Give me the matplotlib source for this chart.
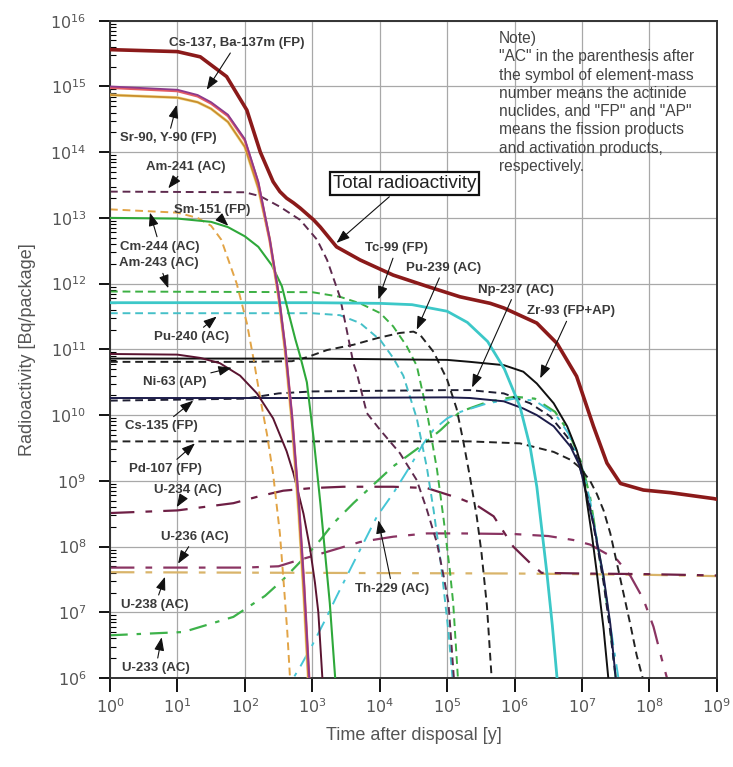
import numpy as np
import matplotlib.pyplot as plt
from matplotlib.ticker import LogLocator, FixedLocator, NullFormatter

plt.rcParams['font.family'] = ['Liberation Sans', 'DejaVu Sans']

# Значення задані як показники степеня: log10(час, роки) та log10(активність, Бк)
total_t = [0, 1.0, 1.34, 1.73, 2.03, 2.23, 2.42, 2.52, 2.62, 2.72, 2.82, 3.02, 3.12, 3.36, 3.71,
           4.2, 4.7, 5.19, 5.64, 5.84, 6.33, 6.63, 6.92, 7.17, 7.37, 7.57, 7.91, 8.31, 8.95, 9.0]
total_a = [15.56, 15.53, 15.45, 15.15, 14.64, 14.0, 13.55, 13.4, 13.3, 13.23, 13.15, 12.97, 12.86,
           12.56, 12.36, 12.13, 11.96, 11.80, 11.70, 11.63, 11.40, 11.09, 10.59, 9.83, 9.27, 8.96,
           8.86, 8.82, 8.73, 8.72]

cs137_t = [0, 1.0, 1.3, 1.5, 1.75, 2.0, 2.2, 2.37, 2.5, 2.6, 2.7, 2.8, 2.88, 2.95, 3.0]
cs137_a = [15.0, 14.95, 14.87, 14.76, 14.57, 14.2, 13.55, 12.68, 11.86, 11.04, 10.0, 8.7, 7.42, 6.1, 5.0]
ba137m_a = [14.98, 14.93, 14.85, 14.74, 14.55, 14.18, 13.53, 12.66, 11.84, 11.02, 9.98, 8.68, 7.4, 6.08, 4.98]

sr90_t = [0, 1.0, 1.3, 1.5, 1.75, 2.0, 2.2, 2.37, 2.5, 2.6, 2.7, 2.8, 2.88, 2.94, 3.0]
sr90_a = [14.87, 14.83, 14.76, 14.66, 14.46, 14.08, 13.45, 12.66, 11.8, 10.95, 9.87, 8.5, 7.16, 6.0, 4.65]

am241_t = [0, 2.0, 2.23, 2.52, 2.82, 3.07, 3.22, 3.41, 3.51, 3.61, 3.66, 3.81, 4.01, 4.3, 4.55,
           4.7, 4.85, 4.95, 5.02, 5.1]
am241_a = [13.40, 13.39, 13.33, 13.17, 12.97, 12.67, 12.36, 11.80, 11.30, 10.79, 10.64, 10.03, 9.77,
           9.42, 9.01, 8.56, 8.05, 7.54, 7.14, 6.0]

cm244_t = [0, 1.0, 1.3, 1.5, 1.65, 1.88, 2.03, 2.13, 2.23, 2.33, 2.42, 2.52, 2.58, 2.63, 2.67]
cm244_a = [13.13, 13.08, 13.0, 12.88, 12.67, 12.0, 11.4, 10.85, 10.25, 9.7, 9.1, 8.2, 7.4, 6.7, 6.0]

sm151_t = [0, 1.0, 1.5, 1.75, 2.0, 2.2, 2.4, 2.55, 2.65, 2.75, 2.82, 2.92, 3.02, 3.12, 3.19, 3.26, 3.34]
sm151_a = [13.0, 12.99, 12.94, 12.86, 12.72, 12.56, 12.28, 11.96, 11.55, 11.15, 10.9, 10.5, 9.65,
           8.66, 7.9, 7.14, 6.0]

am243_t = [0, 3.0, 3.41, 3.71, 4.01, 4.2, 4.4, 4.55, 4.7, 4.85, 4.95, 5.04, 5.09, 5.16]
am243_a = [11.88, 11.87, 11.80, 11.70, 11.55, 11.35, 11.05, 10.75, 10.05, 9.17, 8.4, 7.64, 7.14, 6.0]

pu240_t = [0, 3.0, 3.41, 3.71, 4.01, 4.2, 4.35, 4.55, 4.7, 4.8, 4.9, 4.95, 5.02, 5.08]
pu240_a = [11.55, 11.55, 11.52, 11.40, 11.14, 10.87, 10.6, 9.95, 9.2, 8.55, 7.8, 7.35, 6.7, 6.0]

tc99_t = [0, 3.0, 4.0, 4.48, 5.0, 5.3, 5.6, 5.85, 6.08, 6.23, 6.33, 6.48, 6.56, 6.63]
tc99_a = [11.71, 11.71, 11.70, 11.68, 11.58, 11.41, 11.12, 10.7, 10.13, 9.52, 8.91, 7.59, 6.8, 6.0]

pu239_t = [0, 2.0, 2.7, 2.92, 3.22, 3.61, 3.96, 4.3, 4.5, 4.6, 4.8, 5.0, 5.14, 5.24, 5.34, 5.44,
           5.51, 5.59, 5.66]
pu239_a = [10.81, 10.81, 10.82, 10.88, 10.99, 11.07, 11.17, 11.25, 11.27, 11.22, 10.96, 10.54, 10.1,
           9.6, 9.05, 8.45, 7.9, 7.1, 6.0]

zr93_t = [0, 3.0, 5.0, 5.34, 5.84, 6.13, 6.33, 6.58, 6.78, 6.92, 7.02, 7.07, 7.15, 7.22, 7.32, 7.39]
zr93_a = [10.86, 10.86, 10.84, 10.81, 10.76, 10.66, 10.48, 10.18, 9.83, 9.47, 9.12, 8.7, 8.15, 7.6,
          6.75, 6.0]

ni63_t = [0, 1.0, 1.34, 1.63, 1.93, 2.18, 2.42, 2.62, 2.72, 2.87, 2.97, 3.04, 3.09, 3.12, 3.15]
ni63_a = [10.93, 10.92, 10.87, 10.79, 10.6, 10.33, 9.95, 9.45, 9.12, 8.5, 7.95, 7.45, 7.0, 6.5, 6.0]

np237_t = [0, 2.0, 2.5, 3.0, 4.0, 5.0, 5.34, 5.84, 6.23, 6.53, 6.78, 6.92, 7.02, 7.12, 7.22, 7.32,
           7.42, 7.5]
np237_a = [10.22, 10.25, 10.33, 10.36, 10.37, 10.38, 10.38, 10.33, 10.18, 9.98, 9.67, 9.37, 9.01,
           8.6, 8.05, 7.45, 6.7, 6.0]

cs135_t = [0, 3.0, 5.0, 5.34, 5.84, 6.13, 6.33, 6.58, 6.83, 6.97, 7.05, 7.17, 7.32, 7.42, 7.5]
cs135_a = [10.26, 10.26, 10.27, 10.26, 10.21, 10.10, 10.0, 9.83, 9.52, 9.22, 8.85, 8.35, 7.55, 6.82, 6.0]

pd107_t = [0, 3.0, 5.34, 6.08, 6.58, 6.83, 6.97, 7.12, 7.22, 7.32, 7.42, 7.57, 7.72, 7.81, 7.9]
pd107_a = [9.60, 9.60, 9.60, 9.57, 9.44, 9.32, 9.2, 9.0, 8.8, 8.55, 8.2, 7.5, 6.8, 6.35, 6.0]

u234_t = [0, 1.0, 1.83, 2.23, 2.57, 3.0, 3.46, 4.2, 4.7, 5.19, 5.45, 5.69, 5.98, 6.23, 6.4, 7.0, 8.0, 9.0]
u234_a = [8.51, 8.55, 8.66, 8.77, 8.85, 8.89, 8.91, 8.91, 8.89, 8.73, 8.62, 8.46, 8.0, 7.75, 7.6,
          7.59, 7.58, 7.56]

u236_t = [0, 1.0, 2.0, 2.5, 2.72, 3.22, 3.71, 4.2, 4.7, 5.2, 6.0, 6.5, 6.87, 7.12, 7.52, 7.72, 7.91,
          8.06, 8.18, 8.26]
u236_a = [7.68, 7.68, 7.68, 7.7, 7.77, 7.92, 8.07, 8.15, 8.2, 8.2, 8.19, 8.16, 8.1, 8.03, 7.8, 7.55,
          7.2, 6.78, 6.3, 6.0]

u238_t = [0, 3.0, 6.0, 8.0, 9.0]
u238_a = [7.61, 7.60, 7.59, 7.57, 7.55]

u233_t = [0, 1.09, 1.83, 2.3, 2.57, 2.9, 3.12, 3.31, 3.61, 4.2, 4.6, 4.9, 5.19, 5.6, 6.0, 6.3, 6.6,
          6.8, 7.0, 7.12, 7.22, 7.32, 7.42, 7.5]
u233_a = [6.65, 6.70, 6.93, 7.25, 7.5, 7.85, 8.1, 8.35, 8.66, 9.22, 9.52, 9.77, 10.05, 10.2, 10.28,
          10.25, 10.05, 9.75, 9.25, 8.75, 8.1, 7.5, 6.75, 6.0]

th229_t = [2.6, 2.72, 2.82, 3.0, 3.2, 3.36, 3.61, 3.96, 4.2, 4.45, 4.65, 4.8, 5.0, 5.2, 5.6, 6.0, 6.3,
           6.6, 6.8, 7.0, 7.12, 7.22, 7.32, 7.42, 7.54]
th229_a = [5.7, 6.0, 6.17, 6.5, 6.9, 7.24, 7.75, 8.46, 8.81, 9.22, 9.57, 9.78, 9.95, 10.05, 10.18,
           10.25, 10.22, 10.02, 9.72, 9.2, 8.7, 8.1, 7.5, 6.8, 6.0]

note_text = ('Note)\n"AC" in the parenthesis after\nthe symbol of element-mass\n'
             'number means the actinide\nnuclides, and "FP" and "AP"\n'
             'means the fission products\nand activation products,\nrespectively.')

fig = plt.figure(figsize=(7.33, 7.67), dpi=100)
ax = fig.add_axes([0.150, 0.116, 0.828, 0.857])

dash = (0, (4, 2.5))
u_dash = (0, (11, 5, 3, 5))
g_dash = (0, (8, 4, 2, 4))


def curve(t, a, color, ls='-', lw=1.4, z=2):
    ax.plot(np.power(10.0, t), np.power(10.0, a), color=color, ls=ls, lw=lw, zorder=z)


curve(u238_t, u238_a, '#D9B46A', u_dash, 1.6)
curve(u236_t, u236_a, '#8A3462', u_dash, 1.6)
curve(u234_t, u234_a, '#6E1F45', u_dash, 1.6)
curve(u233_t, u233_a, '#3DB24A', g_dash, 1.6)
curve(th229_t, th229_a, '#45C6D6', g_dash, 1.4)
curve(pd107_t, pd107_a, '#222222', dash)
curve(np237_t, np237_a, '#1F1F33', dash)
curve(pu239_t, pu239_a, '#222222', dash)
curve(pu240_t, pu240_a, '#45C0C8', dash)
curve(am243_t, am243_a, '#3CB043', dash)
curve(am241_t, am241_a, '#5E2A4E', dash)
curve(cm244_t, cm244_a, '#E2A446', dash)
curve(cs135_t, cs135_a, '#1C1C4A', '-', 1.4, 3)
curve(zr93_t, zr93_a, '#111111', '-', 1.4, 3)
curve(ni63_t, ni63_a, '#5A1430', '-', 1.4, 3)
curve(tc99_t, tc99_a, '#3CC8C8', '-', 2.0, 3)
curve(sm151_t, sm151_a, '#2EA83A', '-', 1.5, 3)
curve(sr90_t, sr90_a, '#F2DC96', '-', 2.2, 3)
curve(sr90_t, sr90_a, '#C98E2C', '-', 1.3, 3)
curve(cs137_t, ba137m_a, '#E35C64', '-', 1.8, 3)
curve(cs137_t, cs137_a, '#8C3A8C', '-', 1.3, 3)
curve(total_t, total_a, '#8B1A1A', '-', 2.6, 4)

ax.set_xscale('log')
ax.set_yscale('log')
ax.set_xlim(1, 1e9)
ax.set_ylim(1e6, 1e16)

ax.xaxis.set_major_locator(FixedLocator([10.0 ** k for k in range(0, 10)]))
ax.xaxis.set_minor_locator(FixedLocator([]))
ax.yaxis.set_major_locator(FixedLocator([10.0 ** k for k in range(6, 17)]))
ax.yaxis.set_minor_locator(LogLocator(base=10, subs=np.arange(2, 10), numticks=100))
ax.yaxis.set_minor_formatter(NullFormatter())
ax.set_xticklabels([r'$10^{%d}$' % k for k in range(0, 10)])
ax.set_yticklabels([r'$10^{%d}$' % k for k in range(6, 17)])

ax.tick_params(axis='x', which='major', direction='out', length=10, width=1.3,
               labelsize=11.5, labelcolor='#555555', pad=4)
ax.tick_params(axis='y', which='major', direction='out', length=8, width=1.3,
               labelsize=11.5, labelcolor='#555555', pad=9)
ax.tick_params(axis='y', which='minor', direction='in', length=4, width=0.8)

ax.grid(True, which='major', color='#a8a8a8', lw=0.9)
ax.set_axisbelow(True)
for s in ax.spines.values():
    s.set_linewidth(1.4)
    s.set_color('#333333')

ax.set_xlabel('Time after disposal [y]', fontsize=13, color='#555555', labelpad=8)
ax.set_ylabel('Radioactivity [Bq/package]', fontsize=13, color='#555555', labelpad=10)

# Підписи нуклідів зі стрілками: (текст, центр тексту, вістря) у показниках степеня
labels = [
    ('Cs-137, Ba-137m (FP)', (1.88, 15.66), (1.435, 14.95)),
    ('Sr-90, Y-90 (FP)', (0.86, 14.21), (0.99, 14.72)),
    ('Am-241 (AC)', (1.125, 13.78), (0.865, 13.45)),
    ('Sm-151 (FP)', (1.51, 13.12), (1.755, 12.88)),
    ('Cm-244 (AC)', (0.742, 12.56), (0.593, 13.08)),
    ('Am-243 (AC)', (0.73, 12.31), (0.865, 11.93)),
    ('Pu-240 (AC)', (1.21, 11.19), (1.583, 11.50)),
    ('Ni-63 (AP)', (0.964, 10.51), (1.805, 10.72)),
    ('Cs-135 (FP)', (0.767, 9.83), (1.236, 10.22)),
    ('Pd-107 (FP)', (0.83, 9.18), (1.26, 9.57)),
    ('U-234 (AC)', (1.15, 8.86), (0.99, 8.60)),
    ('U-236 (AC)', (1.26, 8.15), (1.01, 7.74)),
    ('U-238 (AC)', (0.67, 7.11), (0.816, 7.54)),
    ('U-233 (AC)', (0.68, 6.15), (0.767, 6.62)),
    ('Th-229 (AC)', (4.19, 7.36), (3.98, 8.40)),
    ('Tc-99 (FP)', (4.25, 12.54), (3.98, 11.76)),
    ('Pu-239 (AC)', (4.95, 12.24), (4.55, 11.30)),
    ('Np-237 (AC)', (6.02, 11.91), (5.37, 10.42)),
    ('Zr-93 (FP+AP)', (6.84, 11.58), (6.38, 10.56)),
]

arrow = dict(arrowstyle='-|>,head_length=0.8,head_width=0.3', color='#111111', lw=0.8,
             mutation_scale=10, shrinkA=1, shrinkB=0)

for text, (tx, ty), (px, py) in labels:
    ax.annotate(text, xy=(10 ** px, 10 ** py), xytext=(10 ** tx, 10 ** ty),
                ha='center', va='center', fontsize=9.5, fontweight='bold', color='#3a3a3a',
                arrowprops=arrow, zorder=6)

ax.annotate('Total radioactivity', xy=(10 ** 3.36, 10 ** 12.62), xytext=(10 ** 4.364, 10 ** 13.52),
            ha='center', va='center', fontsize=13.5, color='#222222',
            bbox=dict(boxstyle='square,pad=0.15', fc='white', ec='#111111', lw=1.6),
            arrowprops=arrow, zorder=6)

ax.text(0.641, 0.984, note_text, transform=ax.transAxes, ha='left', va='top',
        fontsize=11.2, color='#444444', linespacing=1.27, zorder=6)

fig.savefig('out.png', dpi=100)
